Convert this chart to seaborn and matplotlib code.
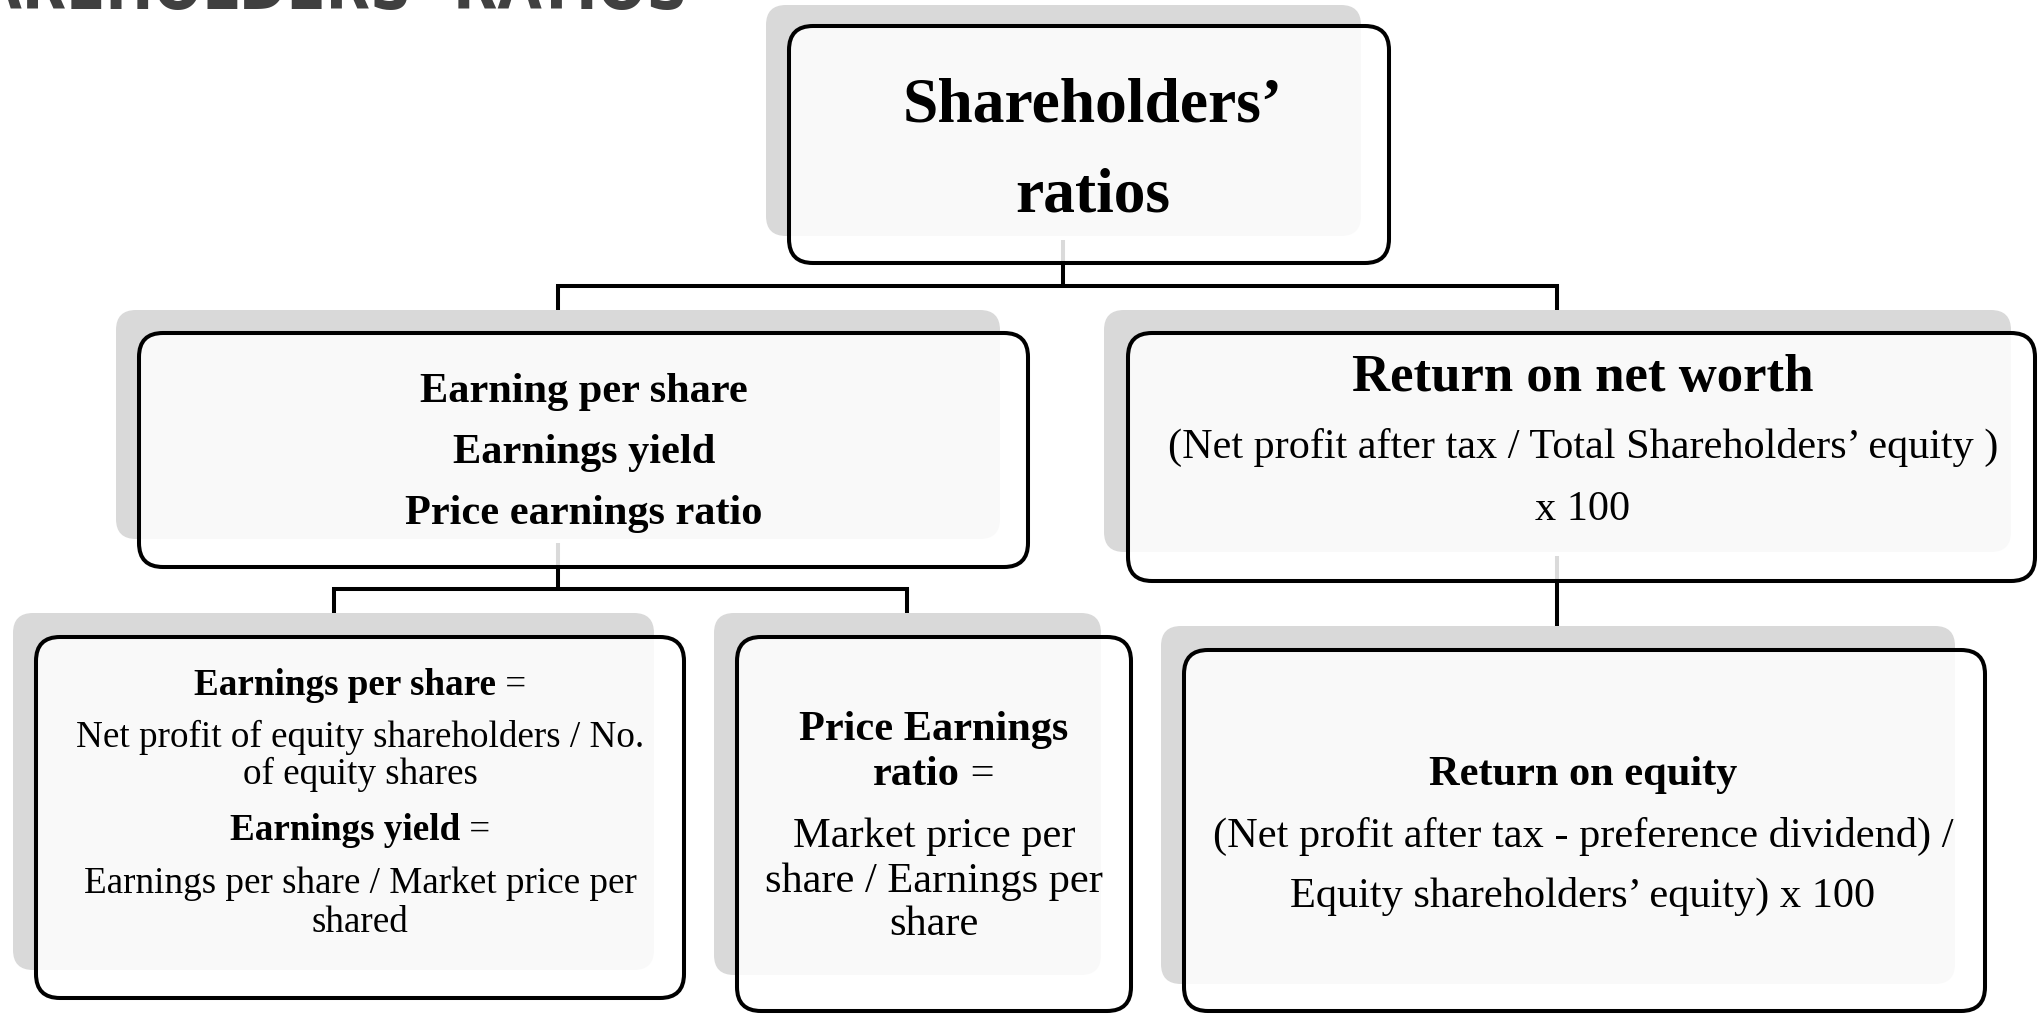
import matplotlib
matplotlib.use("Agg")
import matplotlib.pyplot as plt
import seaborn as sns
from matplotlib.patches import FancyBboxPatch

# ---- texts of the diagram ----
page_title = "SHAREHOLDERS\u2019 RATIOS"

node_names = ["root", "left", "right", "eps", "pe", "roe"]

# each line: (bold part, regular part)
node_lines = {
    "root": [("Shareholders\u2019", ""), ("ratios", "")],
    "left": [("Earning per share", ""), ("Earnings yield", ""), ("Price earnings ratio", "")],
    "right": [("Return on net worth", ""),
              ("", "(Net profit after tax / Total Shareholders\u2019 equity )"),
              ("", "x 100")],
    "eps": [("Earnings per share", " ="),
            ("", "Net profit of equity shareholders / No."),
            ("", "of equity shares"),
            ("Earnings yield", " ="),
            ("", "Earnings per share / Market price per"),
            ("", "shared")],
    "pe": [("Price Earnings", ""), ("ratio", " ="),
           ("", "Market price per"), ("", "share / Earnings per"), ("", "share")],
    "roe": [("Return on equity", ""),
            ("", "(Net profit after tax - preference dividend) /"),
            ("", "Equity shareholders\u2019 equity) x 100")],
}

# parent -> children
edges = [("root", ["left", "right"]), ("left", ["eps", "pe"]), ("right", ["roe"])]

# ---- layout (pixels, y downwards) ----
box_xy = {  # framed box: x0, y0, x1, y1
    "root": (789, 26, 1389, 263),
    "left": (139, 333, 1028, 567),
    "right": (1128, 333, 2035, 581),
    "eps": (36, 637, 684, 998),
    "pe": (737, 637, 1131, 1011),
    "roe": (1184, 650, 1985, 1011),
}
shadow_xy = {
    "root": (766, 5, 1361, 236),
    "left": (116, 310, 1000, 539),
    "right": (1104, 310, 2011, 552),
    "eps": (13, 613, 654, 970),
    "pe": (714, 613, 1101, 975),
    "roe": (1161, 626, 1955, 984),
}
text_x = {"root": 1093, "left": 584, "right": 1583, "eps": 360, "pe": 934, "roe": 1583}
baselines = {
    "root": [121, 212],
    "left": [402, 463, 524],
    "right": [391, 458, 520],
    "eps": [695, 747, 784, 840, 893, 932],
    "pe": [740, 785, 847, 892, 935],
    "roe": [785, 847, 907],
}
font_sizes = {
    "root": [45.7, 45.7],
    "left": [30.5, 30.5, 30.5],
    "right": [38, 30.4, 30.4],
    "eps": [26.7] * 6,
    "pe": [30.5] * 5,
    "roe": [30.5] * 3,
}
conn_x = {"root": 1063, "left": 558, "right": 1557}
child_x = {"left": 558, "right": 1557, "eps": 334, "pe": 907, "roe": 1557}
bar_y = {"root": 286, "left": 589, "right": None}

sns.set_theme(style="white")
plt.rcParams["font.family"] = ["Liberation Serif", "DejaVu Serif"]
plt.rcParams["text.color"] = "black"

fig = plt.figure(figsize=(20.38, 10.14), dpi=100)
ax = fig.add_axes([0, 0, 1, 1])
ax.set_xlim(0, 2038)
ax.set_ylim(1014, 0)
ax.axis("off")

LW = 2.9

# shadows and boxes
for name in node_names:
    x0, y0, x1, y1 = shadow_xy[name]
    ax.add_patch(FancyBboxPatch((x0, y0), x1 - x0, y1 - y0,
                                boxstyle="round,pad=0,rounding_size=20",
                                facecolor="#d9d9d9", edgecolor="none", zorder=0))
    x0, y0, x1, y1 = box_xy[name]
    ax.add_patch(FancyBboxPatch((x0, y0), x1 - x0, y1 - y0,
                                boxstyle="round,pad=0,rounding_size=24",
                                facecolor=(1, 1, 1, 0.86), edgecolor="black",
                                linewidth=LW, zorder=2))

# connectors (drawn under the boxes so the part inside shows grey)
for parent, kids in edges:
    px = conn_x[parent]
    top = shadow_xy[parent][3] + 4
    if len(kids) == 1:
        ax.plot([px, px], [top, shadow_xy[kids[0]][1]], color="black", lw=LW,
                solid_capstyle="butt", zorder=1)
        continue
    by = bar_y[parent]
    ax.plot([px, px], [top, by], color="black", lw=LW, solid_capstyle="butt", zorder=1)
    xs = [child_x[k] for k in kids]
    ax.plot([min(xs), max(xs)], [by, by], color="black", lw=LW,
            solid_capstyle="projecting", zorder=1)
    for k in kids:
        ax.plot([child_x[k], child_x[k]], [by, shadow_xy[k][1]], color="black", lw=LW,
                solid_capstyle="butt", zorder=1)

# texts
fig.canvas.draw()
renderer = fig.canvas.get_renderer()
for name in node_names:
    for (bold, reg), y, fs in zip(node_lines[name], baselines[name], font_sizes[name]):
        pieces = []
        if bold:
            pieces.append(ax.text(0, y, bold, fontsize=fs, fontweight="bold",
                                  color="black", va="baseline", ha="left", zorder=3))
        if reg:
            pieces.append(ax.text(0, y, reg, fontsize=fs, fontweight="normal",
                                  color="black", va="baseline", ha="left", zorder=3))
        widths = [p.get_window_extent(renderer).width for p in pieces]
        x = text_x[name] - sum(widths) / 2
        for p, w in zip(pieces, widths):
            p.set_x(x)
            x += w

# page title, cut off at the top edge
ax.text(688, 9, page_title, fontsize=46, fontweight="bold", color="#404040",
        family=["DejaVu Sans"], fontstretch="condensed", ha="right", va="baseline",
        zorder=3)

fig.savefig("out.png", dpi=100)
